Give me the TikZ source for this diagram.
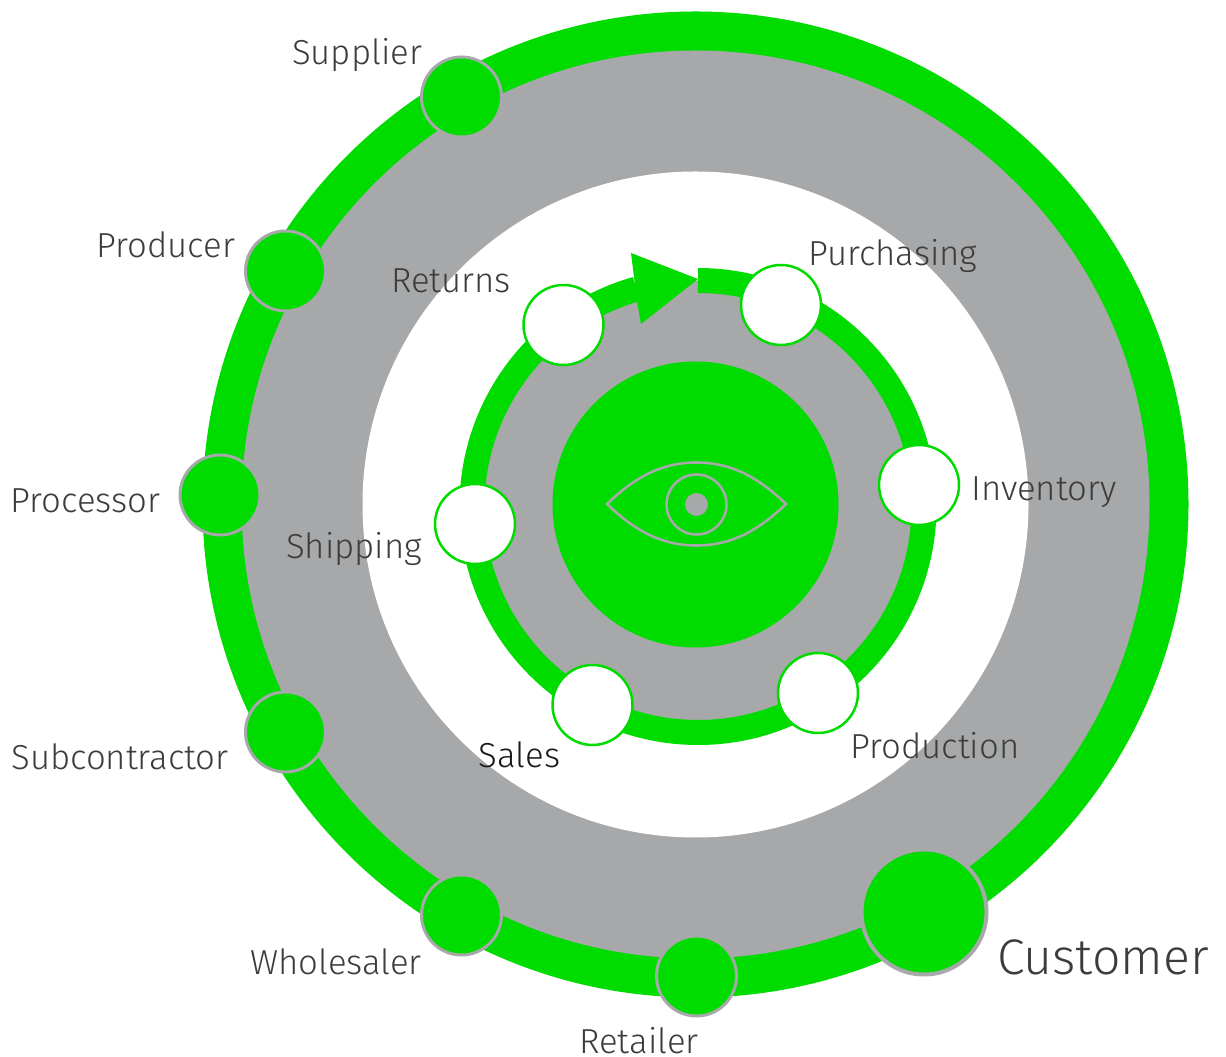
\documentclass[tikz,border=0pt]{standalone}
\usepackage{fontspec}
\setmainfont{Fira Sans Light}
\definecolor{gr}{HTML}{00DC00}
\definecolor{gy}{HTML}{A6A8AA}
\definecolor{tx}{HTML}{3C3C3C}
\tikzset{
 darknode/.style={circle,draw=gy,fill=gr,line width=3bp,inner sep=0pt,minimum size=80bp},
 lightnode/.style={circle,draw=gr,fill=white,line width=2.5bp,inner sep=0pt,minimum size=80bp},
 lab/.style={anchor=base,text=tx,inner sep=0pt,font=\fontsize{34.7bp}{38bp}\selectfont},
 eyeline/.style={draw=gy,line width=2.6bp,line join=miter}
}
\begin{document}
\begin{tikzpicture}[x=1bp,y=1bp]
\useasboundingbox (0,0) rectangle (1226,1057);
\coordinate (c) at (695.5,552.5);
\coordinate (r) at (698,550.5);
% rings
\fill[gr] (c) circle[radius=493bp];
\fill[gy] (c) circle[radius=454bp];
\fill[white] (c) circle[radius=333bp];
\fill[gy] (r) circle[radius=226bp];
\draw[gr,line width=25bp] (698,776.5) arc[start angle=90,end angle=-254.2,radius=226bp];
\fill[gr] (698,778) -- (631,804) -- (634,780) -- (637,756) -- (641,733) -- cycle;
\fill[gr] (c) circle[radius=143bp];
% eye
\draw[eyeline] (607,553) .. controls (634,579) and (661,594.5) .. (696.5,594.5) .. controls (732,594.5) and (759,579) .. (786,553) .. controls (759,527) and (732,511.5) .. (696.5,511.5) .. controls (661,511.5) and (634,527) .. (607,553) -- cycle;
\draw[eyeline] (696.5,552.5) circle[radius=30bp];
\fill[gy] (696.5,552.5) circle[radius=11.5bp];
% outer nodes
\node[darknode] (n1) at (461.5,960) {};
\node[darknode] (n2) at (285.5,786) {};
\node[darknode] (n3) at (220,562) {};
\node[darknode] (n4) at (285.5,325) {};
\node[darknode] (n5) at (461.5,142) {};
\node[darknode] (n6) at (696.5,81) {};
\node[darknode,minimum size=125bp,line width=4bp] (n7) at (924,145) {};
% inner nodes
\node[lightnode] (w1) at (781,752) {};
\node[lightnode] (w2) at (919,572) {};
\node[lightnode] (w3) at (818,364) {};
\node[lightnode] (w4) at (592.5,352) {};
\node[lightnode] (w5) at (475,533) {};
\node[lightnode] (w6) at (563.5,732) {};
% labels
\node[lab] (l1) at (357,992) {Supplier};
\node[lab] (l2) at (166,799) {Producer};
\node[lab] (l3) at (85.5,544) {Processor};
\node[lab] (l4) at (120,287) {Subcontractor};
\node[lab] (l5) at (336,82) {Wholesaler};
\node[lab] (l6) at (639,3) {Retailer};
\node[lab,font=\fontsize{50bp}{54bp}\selectfont] (l7) at (1103,82) {Customer};
\node[lab] (m1) at (893,791) {Purchasing};
\node[lab] (m2) at (1044,556) {Inventory};
\node[lab] (m3) at (935,298) {Production};
\node[lab,text=black!90] (m4) at (519.5,289) {Sales};
\node[lab] (m5) at (354,498) {Shipping};
\node[lab] (m6) at (451,764) {Returns};
\end{tikzpicture}
\end{document}
